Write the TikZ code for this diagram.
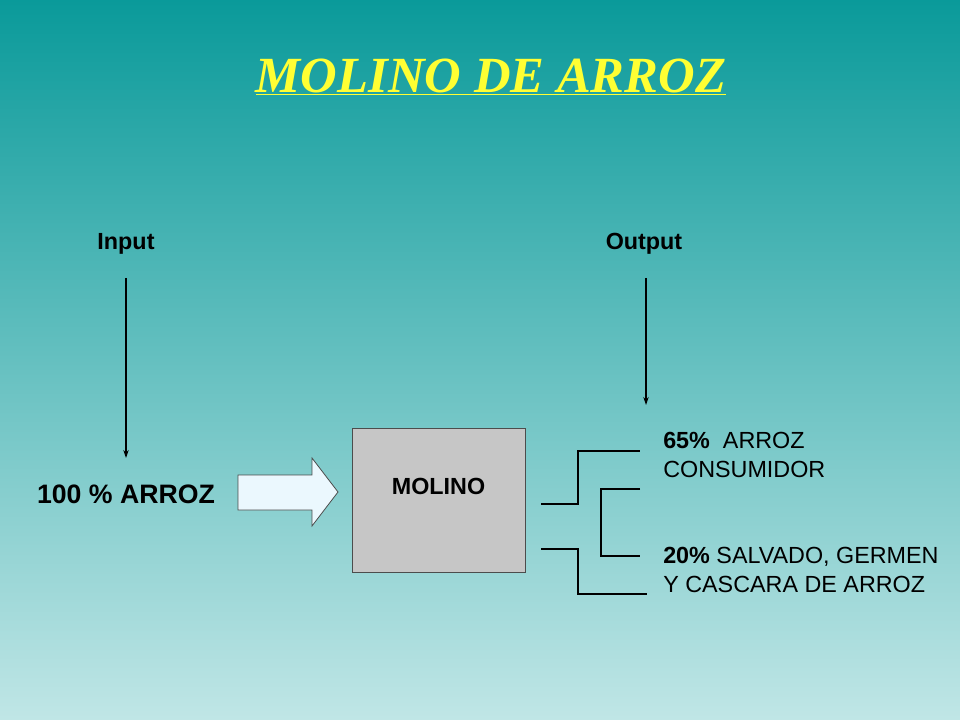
\documentclass[tikz,border=0pt]{standalone}
\usepackage{fontspec}
\setmainfont{Liberation Sans}
\newfontfamily\titlefont{Liberation Serif}
\usetikzlibrary{arrows.meta}
\definecolor{topc}{HTML}{0A9A9A}
\definecolor{botc}{HTML}{C0E6E6}
\definecolor{ttl}{HTML}{FFFF33}
\tikzset{lbl/.style={font=\fontsize{17.5}{21}\selectfont\bfseries},
  rt/.style={font=\fontsize{17.5}{22}\selectfont,anchor=west,align=left,inner sep=0pt},
  ln/.style={line width=0.8pt},
  arr/.style={line width=0.8pt,-{Stealth[length=6pt,width=4pt]}}}
\begin{document}
\begin{tikzpicture}[x=0.75pt,y=-0.75pt]
\shade[top color=topc,bottom color=botc] (0,0) rectangle (960,720);
\useasboundingbox (0,0) rectangle (960,720);
\node (title) at (491,77) {\titlefont\fontsize{38}{44}\selectfont\bfseries\itshape\color{ttl}\underline{MOLINO DE ARROZ}};
\node[lbl] (in) at (126,244) {Input};
\node[lbl] (out) at (644,244) {Output};
\coordinate (ina) at (126,278); \coordinate (inb) at (126,458);
\coordinate (oa) at (646,278); \coordinate (ob) at (646,405);
\draw[arr] (ina) -- (inb);
\draw[arr] (oa) -- (ob);
\node[font=\fontsize{20}{24}\selectfont\bfseries] (arroz) at (126,494) {100 \% ARROZ};
\draw[draw=black!70, fill=cyan!8, line width=0.6pt] (238,475) -- (312,475) -- (312,458) -- (338,492) -- (312,526) -- (312,510) -- (238,510) -- cycle;
\node[draw=black!70, fill=gray!45, minimum width=173*0.75pt, minimum height=144*0.75pt, line width=0.6pt] (mol) at (438.5,500) {};
\node[lbl] at (438.5,486) {MOLINO};
\coordinate (a1) at (541,504); \coordinate (a2) at (578,504); \coordinate (a3) at (578,451); \coordinate (a4) at (640,451);
\draw[ln] (a1) -- (a2) -- (a3) -- (a4);
\coordinate (b1) at (640,489); \coordinate (b2) at (601,489); \coordinate (b3) at (601,556); \coordinate (b4) at (640,556);
\draw[ln] (b1) -- (b2) -- (b3) -- (b4);
\coordinate (c1) at (541,549); \coordinate (c2) at (578,549); \coordinate (c3) at (578,594); \coordinate (c4) at (647,594);
\draw[ln] (c1) -- (c2) -- (c3) -- (c4);
\node[rt] (t1) at (663,455) {\textbf{65\%}\ \ ARROZ\\CONSUMIDOR};
\node[rt] (t2) at (663,570) {\textbf{20\%} SALVADO, GERMEN\\Y CASCARA DE ARROZ};
\end{tikzpicture}
\end{document}
